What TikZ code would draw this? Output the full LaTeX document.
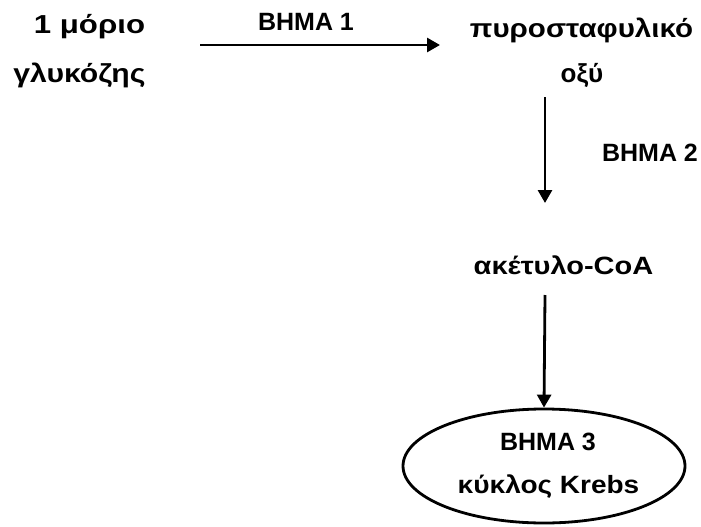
\documentclass[tikz,border=0pt]{standalone}
\usepackage{graphicx}
\usepackage{fontspec}
\setmainfont{Liberation Sans}
\usetikzlibrary{shapes.geometric,arrows.meta}
\begin{document}
\begin{tikzpicture}[x=1pt,y=-1pt,
  lbl/.style={font=\bfseries\fontsize{25}{30}\selectfont,inner sep=0pt},
  big/.style={font=\bfseries\fontsize{26}{30}\selectfont,inner sep=0pt},
  arr/.style={-{Triangle[length=13pt,width=14pt]},line width=2.8pt}]
\useasboundingbox (0,0) rectangle (701,527);
\node[big] (gluc1) at (89.5,27) {\scalebox{1.2}[1]{1 μόριο}};
\node[big] (gluc2) at (79.5,75) {\scalebox{1.16}[1]{γλυκόζης}};
\node[big] (pyr1) at (581.5,30) {\scalebox{1.135}[1]{πυροσταφυλικό}};
\node[big] (pyr2) at (582,75) {οξύ};
\node[lbl] (s1) at (306,22) {BHMA 1};
\coordinate (a1s) at (200,45);
\coordinate (a1e) at (440,45);
\draw[arr] (a1s) -- (a1e);
\coordinate (a2s) at (545,97);
\coordinate (a2e) at (545,203);
\draw[arr] (a2s) -- (a2e);
\node[lbl] (s2) at (650,153) {BHMA 2};
\node[lbl] (acoa) at (563.5,265) {\scalebox{1.16}[1]{ακέτυλο-CoA}};
\node[ellipse,draw,line width=2.8pt,minimum width=282pt,minimum height=114pt] (krebs) at (544,466) {};
\coordinate (a3s) at (545,295);
\draw[arr] (a3s) -- (krebs.north);
\node[lbl] (k1) at (548,442) {BHMA 3};
\node[lbl] (k2) at (548.5,487) {\scalebox{1.12}[1]{κύκλος Krebs}};
\end{tikzpicture}
\end{document}
